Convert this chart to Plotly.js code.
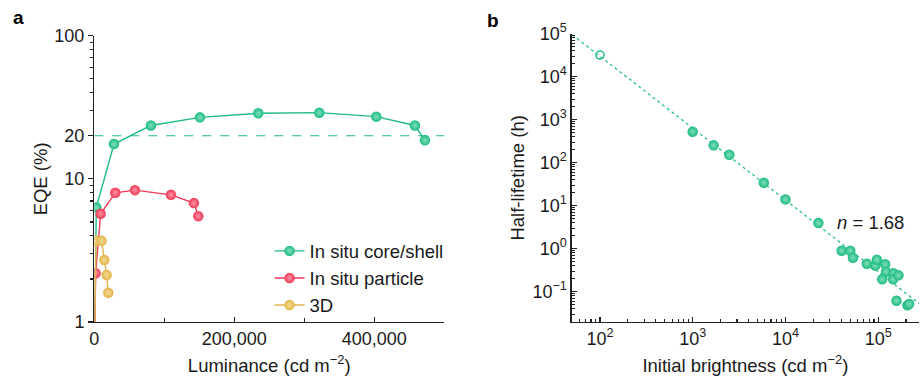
<!DOCTYPE html>
<html>
<head>
<meta charset="utf-8">
<script src="https://cdn.plot.ly/plotly-3.0.1.min.js"></script>
<style>html,body{margin:0;padding:0;background:#fff;}#chart{width:920px;height:376px;}</style>
</head>
<body>
<div id="chart"></div>
<script>
// ---- Panel a: EQE vs luminance ----
const coreShellLum = [0, 2857, 28095, 80952, 150952, 234286, 321429, 402857, 458095, 472381];
const coreShellEQE = [0.5, 6.31, 17.5, 23.6, 26.9, 28.7, 29.0, 27.2, 23.6, 18.6];
const particleLum = [0, 1905, 9048, 30000, 58095, 109524, 142381, 148571];
const particleEQE = [0.5, 2.19, 5.70, 7.99, 8.34, 7.73, 6.77, 5.49];
const threeDLum = [0, 2381, 10476, 14286, 17619, 20000];
const threeDEQE = [0.5, 3.69, 3.69, 2.71, 2.13, 1.60];
const eqeRefLine = 20;
const seriesNames = ["In situ core/shell", "In situ particle", "3D"];
const eqeTickVals = [1, 10, 20, 100];
const eqeTickText = ["1", "10", "20", "100"];
const lumTickVals = [0, 200000, 400000];
const lumTickText = ["0", "200,000", "400,000"];

// ---- Panel b: half-lifetime vs initial brightness ----
const extrapBrightness = [100];
const extrapLifetime = [31900];
const brightness = [1000, 1682, 2478, 5848, 10000, 22650, 40360, 50000, 53400, 75500, 92900, 96800, 118900, 121800, 110500, 146200, 145000, 165500, 157500, 206400, 215200];
const lifetime = [526, 253, 153, 34.3, 14.0, 3.95, 0.898, 0.898, 0.618, 0.448, 0.403, 0.555, 0.433, 0.292, 0.194, 0.267, 0.194, 0.240, 0.0618, 0.0481, 0.0516];
const fitBrightness = [50, 276000];
const fitLifetime = [95000, 0.053];
const fitLabel = "<i>n</i> = 1.68";
const lifeTickVals = [0.1, 1, 10, 100, 1000, 10000, 100000];
const lifeTickText = ["10<sup>−1</sup>", "10<sup>0</sup>", "10<sup>1</sup>", "10<sup>2</sup>", "10<sup>3</sup>", "10<sup>4</sup>", "10<sup>5</sup>"];
const brightTickVals = [100, 1000, 10000, 100000];
const brightTickText = ["10<sup>2</sup>", "10<sup>3</sup>", "10<sup>4</sup>", "10<sup>5</sup>"];

// minor log tick positions (2..9 in each decade)
function logMinor(e0, e1) {
  const out = [];
  for (let e = e0; e <= e1; e++) for (let d = 2; d <= 9; d++) out.push(d * Math.pow(10, e));
  return out;
}

const GREEN = "#1fbb82", RED = "#ee3a56", YELLOW = "#e1b54b";
const FONT = "Liberation Sans, Arial, Helvetica, sans-serif";
const TXT = "#1a1a1a";
const FS = 18.5;

function ballMarker(color, light) {
  return {color: color, size: 10.5, line: {width: 0}, gradient: {type: "radial", color: light}};
}

const traces = [
  {x: coreShellLum, y: coreShellEQE, name: seriesNames[0], mode: "lines+markers", xaxis: "x", yaxis: "y",
   line: {color: GREEN, width: 1.4}, marker: ballMarker(GREEN, "#7fe0b8")},
  {x: particleLum, y: particleEQE, name: seriesNames[1], mode: "lines+markers", xaxis: "x", yaxis: "y",
   line: {color: RED, width: 1.4}, marker: ballMarker(RED, "#ff93a4")},
  {x: threeDLum, y: threeDEQE, name: seriesNames[2], mode: "lines+markers", xaxis: "x", yaxis: "y",
   line: {color: YELLOW, width: 1.4}, marker: ballMarker(YELLOW, "#f5d993")},
  {x: fitBrightness, y: fitLifetime, mode: "lines", xaxis: "x2", yaxis: "y2", showlegend: false,
   line: {color: GREEN, width: 1.2, dash: "dot"}},
  {x: extrapBrightness, y: extrapLifetime, mode: "markers", xaxis: "x2", yaxis: "y2", showlegend: false,
   marker: {symbol: "circle-open", color: GREEN, size: 8, line: {width: 1.5, color: GREEN}}},
  {x: brightness, y: lifetime, mode: "markers", xaxis: "x2", yaxis: "y2", showlegend: false,
   marker: ballMarker(GREEN, "#7fe0b8")}
];

const axisCommon = {showgrid: false, zeroline: false, showline: true, linecolor: "#222", linewidth: 1.3,
  tickcolor: "#222", tickwidth: 1.2, tickfont: {family: FONT, size: 18, color: TXT}};
const titleFont = {family: FONT, size: FS, color: TXT};

const layout = {
  width: 920, height: 376,
  margin: {l: 0, r: 0, t: 0, b: 0},
  paper_bgcolor: "#fff", plot_bgcolor: "#fff",
  font: {family: FONT, size: 18, color: TXT},
  showlegend: true,
  legend: {x: 0.293, y: 0.382, xanchor: "left", yanchor: "top", bgcolor: "rgba(0,0,0,0)",
           font: {family: FONT, size: FS, color: TXT}, tracegroupgap: 0},
  xaxis: Object.assign({}, axisCommon, {domain: [0.1025, 0.4829], range: [0, 500000], anchor: "y",
    tickmode: "array", tickvals: lumTickVals, ticktext: lumTickText, ticks: "inside", ticklen: 5,
    minor: {tickmode: "array", tickvals: [100000, 300000, 500000], ticks: "inside", ticklen: 4, tickcolor: "#222", tickwidth: 1.2},
    title: {text: "Luminance (cd m<sup>−2</sup>)", font: titleFont, standoff: 11}}),
  yaxis: Object.assign({}, axisCommon, {domain: [0.1436, 0.905], type: "log", range: [0, 2], anchor: "x",
    tickmode: "array", tickvals: eqeTickVals, ticktext: eqeTickText, ticks: "outside", ticklen: 5,
    minor: {tickmode: "array", tickvals: logMinor(0, 1), ticks: "outside", ticklen: 3, tickcolor: "#222", tickwidth: 1.2},
    title: {text: "EQE (%)", font: titleFont, standoff: 2}}),
  xaxis2: Object.assign({}, axisCommon, {domain: [0.6214, 0.999], type: "log", range: [1.695, 5.441], anchor: "y2",
    tickmode: "array", tickvals: brightTickVals, ticktext: brightTickText, ticks: "inside", ticklen: 5,
    minor: {tickmode: "array", tickvals: logMinor(1, 5), ticks: "inside", ticklen: 3, tickcolor: "#222", tickwidth: 1.2},
    title: {text: "Initial brightness (cd m<sup>−2</sup>)", font: titleFont, standoff: 11}}),
  yaxis2: Object.assign({}, axisCommon, {domain: [0.1436, 0.9104], type: "log", range: [-1.705, 5.0], anchor: "x2",
    tickmode: "array", tickvals: lifeTickVals, ticktext: lifeTickText, ticks: "inside", ticklen: 5,
    minor: {tickmode: "array", tickvals: logMinor(-2, 4), ticks: "inside", ticklen: 3, tickcolor: "#222", tickwidth: 1.2},
    title: {text: "Half-lifetime (h)", font: titleFont, standoff: 3}}),
  shapes: [
    {type: "line", xref: "x", yref: "y", x0: 0, x1: 500000, y0: eqeRefLine, y1: eqeRefLine,
     line: {color: GREEN, width: 1.2, dash: "dash"}}
  ],
  annotations: [
    {text: "<b>a</b>", xref: "paper", yref: "paper", x: 18 / 920, y: 1 - 17 / 376, xanchor: "center", yanchor: "middle",
     showarrow: false, font: {family: FONT, size: 19, color: "#000"}},
    {text: "<b>b</b>", xref: "paper", yref: "paper", x: 493 / 920, y: 1 - 20 / 376, xanchor: "center", yanchor: "middle",
     showarrow: false, font: {family: FONT, size: 19, color: "#000"}},
    {text: fitLabel, xref: "x2", yref: "y2", x: Math.log10(34500), y: Math.log10(4), xanchor: "left", yanchor: "middle",
     showarrow: false, font: {family: FONT, size: FS, color: TXT}}
  ]
};

Plotly.newPlot("chart", traces, layout, {displayModeBar: false, staticPlot: true});
</script>
</body>
</html>
